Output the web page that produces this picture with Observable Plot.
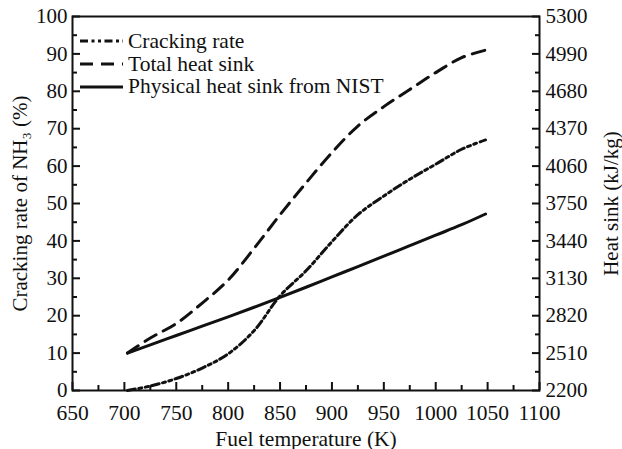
<!DOCTYPE html>
<html>
<head>
<meta charset="utf-8">
<script src="https://cdn.jsdelivr.net/npm/d3@7"></script>
<script src="https://cdn.jsdelivr.net/npm/@observablehq/plot@0.6"></script>
<style>
  body { margin: 0; background: #fff; }
  #chart { position: relative; width: 622px; height: 449px; }
  .legend { position: absolute; left: 80px; top: 30px; font-family: "Times New Roman", "Liberation Serif", serif; font-size: 21.5px; color: #111; }
  .legend .row { display: flex; align-items: center; height: 22.7px; white-space: nowrap; }
  .legend svg { margin-right: 5px; }
</style>
</head>
<body>
<div id="chart"></div>
<script>
// Fuel temperature (K) at which each series was sampled
const temperature = [703, 725, 750, 775, 800, 825, 850, 875, 900, 925, 950, 975, 1000, 1025, 1048];
// NH3 cracking rate (%)
const crackingRate = [0, 1.2, 3.2, 6, 9.8, 16, 25.3, 32, 39.8, 47, 52, 56.5, 60.5, 64.5, 67];
// Total heat sink (kJ/kg)
const totalHeatSink = [2510, 2635, 2755, 2925, 3115, 3378, 3657, 3920, 4172, 4392, 4553, 4695, 4835, 4959, 5021];
// Physical heat sink from NIST (kJ/kg)
const physicalHeatSink = [2510, 2578, 2656, 2733, 2811, 2890, 2972, 3056, 3142, 3227, 3313, 3400, 3487, 3574, 3663];

const xTicks = [650, 700, 750, 800, 850, 900, 950, 1000, 1050, 1100];
const rateTicks = [0, 10, 20, 30, 40, 50, 60, 70, 80, 90, 100];
const heatTicks = [2200, 2510, 2820, 3130, 3440, 3750, 4060, 4370, 4680, 4990, 5300];

const seriesNames = ["Cracking rate", "Total heat sink", "Physical heat sink from NIST"];

// The heat-sink axis (right) spans 2200–5300 over the same height as 0–100 %
const heatMin = 2200, heatMax = 5300;
const heatToRate = h => (h - heatMin) / (heatMax - heatMin) * 100;

const dashDotDot = "8,3.5,3,3.5,3,3.5";
const dashed = "13,8";

const rows = temperature.map((t, i) => ({
  t,
  rate: crackingRate[i],
  total: heatToRate(totalHeatSink[i]),
  physical: heatToRate(physicalHeatSink[i])
}));

const mid = a => a.slice(0, -1).map((v, i) => (v + a[i + 1]) / 2);
const plain = d => String(d);

const font = "'Times New Roman', 'Liberation Serif', serif";

const chart = Plot.plot({
  width: 622,
  height: 449,
  marginLeft: 72,
  marginRight: 83,
  marginTop: 16,
  marginBottom: 59,
  style: { fontFamily: font, fontSize: "20px", background: "white", color: "#111" },
  x: { domain: [650, 1100] },
  y: { domain: [0, 100] },
  marks: [
    // major / minor ticks, all pointing inward
    Plot.axisX({ ticks: xTicks, tickSize: -8, tickPadding: 22, strokeWidth: 2, tickFormat: plain,
                 label: "Fuel temperature (K)", labelAnchor: "center", labelArrow: "none", labelOffset: 55,
                 fontSize: 21.5 }),
    Plot.axisX({ ticks: mid(xTicks), tickSize: -5, tickFormat: () => "", strokeWidth: 2, label: null }),
    Plot.axisY({ ticks: rateTicks, tickSize: -8, tickPadding: 13, strokeWidth: 2, tickFormat: plain,
                 label: "Cracking rate of NH₃ (%)", labelAnchor: "center", labelArrow: "none", labelOffset: 60,
                 fontSize: 21 }),
    Plot.axisY({ ticks: mid(rateTicks), tickSize: -5, tickFormat: () => "", strokeWidth: 2, label: null }),
    Plot.axisY({ anchor: "right", ticks: heatTicks.map(heatToRate), tickSize: -8, tickPadding: 14, strokeWidth: 2,
                 tickFormat: (d, i) => String(heatTicks[i]),
                 label: "Heat sink (kJ/kg)", labelAnchor: "center", labelArrow: "none", labelOffset: 78,
                 fontSize: 21 }),
    Plot.axisY({ anchor: "right", ticks: mid(heatTicks).map(heatToRate), tickSize: -5, tickFormat: () => "",
                 strokeWidth: 2, label: null }),
    Plot.frame({ stroke: "#111", strokeWidth: 2 }),
    Plot.line(rows, { x: "t", y: "rate", curve: "catmull-rom", stroke: "#111", strokeWidth: 3,
                      strokeDasharray: dashDotDot }),
    Plot.line(rows, { x: "t", y: "total", curve: "catmull-rom", stroke: "#111", strokeWidth: 3,
                      strokeDasharray: dashed }),
    Plot.line(rows, { x: "t", y: "physical", curve: "catmull-rom", stroke: "#111", strokeWidth: 3 })
  ]
});

const host = document.getElementById("chart");
host.appendChild(chart);

// legend in the upper-left corner of the plot
const legend = document.createElement("div");
legend.className = "legend";
const dashes = [dashDotDot, dashed, null];
seriesNames.forEach((name, i) => {
  const row = document.createElement("div");
  row.className = "row";
  row.innerHTML =
    `<svg width="43" height="6"><line x1="0" y1="3" x2="43" y2="3" stroke="#111" stroke-width="3"` +
    (dashes[i] ? ` stroke-dasharray="${dashes[i]}"` : "") + `/></svg><span>${name}</span>`;
  legend.appendChild(row);
});
host.appendChild(legend);
</script>
</body>
</html>
